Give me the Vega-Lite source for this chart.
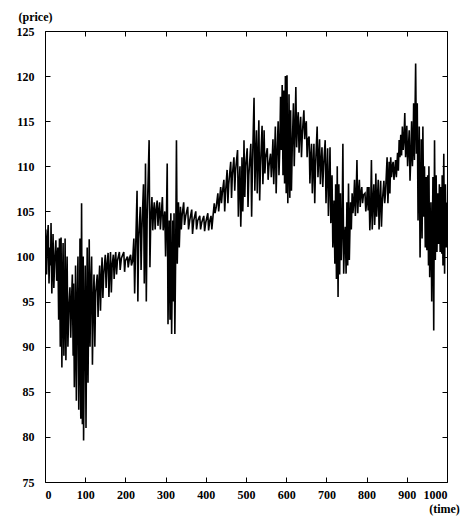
{
"$schema":"https://vega.github.io/schema/vega-lite/v6.json",
"width":402,"height":451,
"autosize":{"type":"none"},
"padding":{"left":45,"top":31,"right":21,"bottom":34},
"background":"white",
"config":{"view":{"stroke":"black","strokeWidth":1},"axis":{"labelFont":"Liberation Serif","labelFontWeight":"bold","labelFontSize":12,"labelColor":"black","titleFont":"Liberation Serif","titleFontWeight":"bold","titleFontSize":12,"titleColor":"black","grid":false,"domain":false,"tickColor":"black","tickWidth":1}},
"data":{"values":[
{"t":0,"p":100.5},{"t":2,"p":103},{"t":4,"p":98},{"t":6,"p":102},{"t":8,"p":103.5},{"t":10,"p":97},{"t":12,"p":101},{"t":14,"p":99},{"t":15,"p":103.7},{"t":17,"p":95.9},{"t":19,"p":100},{"t":20,"p":102.5},{"t":22,"p":96.5},{"t":24,"p":99.5},{"t":27,"p":101.8},{"t":29,"p":97.3},{"t":31,"p":100},{"t":32,"p":101},{"t":34,"p":93},{"t":36,"p":102},{"t":38,"p":90},{"t":40,"p":102.1},{"t":42,"p":87.7},{"t":44,"p":98},{"t":45,"p":101.5},{"t":47,"p":89},{"t":49,"p":95},{"t":50,"p":102},{"t":52,"p":88.5},{"t":54,"p":97},{"t":55,"p":100},{"t":57,"p":90},{"t":59,"p":94},{"t":62,"p":96.6},{"t":64,"p":91},{"t":66,"p":95},{"t":68,"p":98},{"t":70,"p":89},{"t":71,"p":97},{"t":73,"p":85.5},{"t":75,"p":93},{"t":76,"p":99},{"t":78,"p":84},{"t":80,"p":95},{"t":82,"p":100},{"t":84,"p":83},{"t":86,"p":92},{"t":87,"p":102},{"t":89,"p":82},{"t":91,"p":105.9},{"t":93,"p":81.4},{"t":95,"p":100},{"t":96,"p":79.6},{"t":98,"p":92},{"t":100,"p":99},{"t":102,"p":81},{"t":104,"p":95},{"t":105,"p":101},{"t":107,"p":86},{"t":109,"p":96},{"t":110,"p":101.9},{"t":112,"p":90},{"t":114,"p":97},{"t":116,"p":100},{"t":118,"p":88},{"t":120,"p":95},{"t":122,"p":98},{"t":124,"p":90},{"t":126,"p":96},{"t":130,"p":98},{"t":132,"p":93.3},{"t":134,"p":97},{"t":136,"p":99},{"t":138,"p":94},{"t":140,"p":97.5},{"t":142,"p":99.9},{"t":144,"p":95.4},{"t":146,"p":98},{"t":150,"p":100.2},{"t":152,"p":96.5},{"t":154,"p":99},{"t":157,"p":100.4},{"t":159,"p":95.5},{"t":161,"p":98.5},{"t":163,"p":100.5},{"t":165,"p":96},{"t":167,"p":99},{"t":170,"p":100.2},{"t":172,"p":97.5},{"t":174,"p":99.5},{"t":176,"p":100.5},{"t":178,"p":98},{"t":180,"p":99.5},{"t":185,"p":100.5},{"t":187,"p":98.5},{"t":190,"p":99.8},{"t":196,"p":100.5},{"t":198,"p":98.3},{"t":200,"p":99.5},{"t":205,"p":100},{"t":207,"p":98.8},{"t":210,"p":99.8},{"t":213,"p":100.2},{"t":215,"p":99},{"t":218,"p":99.5},{"t":221,"p":102},{"t":223,"p":95.9},{"t":225,"p":100},{"t":229,"p":107.3},{"t":231,"p":95},{"t":233,"p":102},{"t":237,"p":105.5},{"t":239,"p":98.5},{"t":241,"p":103},{"t":245,"p":108},{"t":247,"p":97},{"t":249,"p":104},{"t":250,"p":110.3},{"t":252,"p":95},{"t":254,"p":104},{"t":259,"p":112.9},{"t":261,"p":98.8},{"t":263,"p":104},{"t":266,"p":106.6},{"t":268,"p":102.9},{"t":270,"p":105},{"t":272,"p":106},{"t":274,"p":103},{"t":276,"p":105},{"t":279,"p":106.2},{"t":281,"p":103.4},{"t":283,"p":105},{"t":285,"p":106},{"t":287,"p":103},{"t":289,"p":104.5},{"t":292,"p":106.6},{"t":294,"p":102.9},{"t":296,"p":104},{"t":298,"p":105},{"t":300,"p":100},{"t":302,"p":104},{"t":304,"p":110.3},{"t":306,"p":92.5},{"t":308,"p":100},{"t":309,"p":104},{"t":311,"p":93},{"t":313,"p":104.8},{"t":315,"p":91.4},{"t":317,"p":99},{"t":318,"p":104},{"t":320,"p":95},{"t":321,"p":104.8},{"t":323,"p":91.4},{"t":325,"p":100},{"t":327,"p":112.9},{"t":329,"p":99.2},{"t":331,"p":104},{"t":332,"p":106},{"t":334,"p":101},{"t":336,"p":104},{"t":337,"p":105.5},{"t":339,"p":103},{"t":341,"p":104.5},{"t":345,"p":106},{"t":347,"p":103.5},{"t":350,"p":104.5},{"t":355,"p":105.5},{"t":357,"p":103},{"t":360,"p":104},{"t":365,"p":105.2},{"t":367,"p":102.5},{"t":370,"p":104},{"t":375,"p":105},{"t":377,"p":103},{"t":380,"p":104},{"t":385,"p":104.5},{"t":387,"p":103},{"t":390,"p":103.8},{"t":395,"p":104.5},{"t":397,"p":102.8},{"t":400,"p":103.8},{"t":405,"p":104.8},{"t":407,"p":102.9},{"t":410,"p":104},{"t":413,"p":104.5},{"t":415,"p":103},{"t":418,"p":104.5},{"t":421,"p":105.9},{"t":423,"p":104.8},{"t":426,"p":105.5},{"t":430,"p":107},{"t":432,"p":105},{"t":434,"p":106},{"t":437,"p":107.7},{"t":439,"p":105.9},{"t":441,"p":107},{"t":445,"p":108.5},{"t":447,"p":105},{"t":449,"p":107},{"t":453,"p":109.6},{"t":455,"p":105.9},{"t":457,"p":108},{"t":462,"p":110.5},{"t":464,"p":106.5},{"t":466,"p":109},{"t":470,"p":111},{"t":472,"p":107.3},{"t":474,"p":109.5},{"t":479,"p":111.8},{"t":481,"p":104.4},{"t":483,"p":108},{"t":485,"p":110},{"t":487,"p":103.3},{"t":489,"p":107},{"t":490,"p":111},{"t":492,"p":105},{"t":494,"p":109},{"t":495,"p":112.9},{"t":497,"p":106.6},{"t":499,"p":110},{"t":503,"p":112},{"t":505,"p":105.5},{"t":507,"p":109},{"t":512,"p":112.5},{"t":514,"p":104.4},{"t":516,"p":110},{"t":520,"p":117.6},{"t":522,"p":107.3},{"t":524,"p":111},{"t":526,"p":114},{"t":528,"p":107},{"t":530,"p":111},{"t":532,"p":115.1},{"t":534,"p":106.2},{"t":536,"p":110},{"t":540,"p":114.5},{"t":542,"p":108},{"t":544,"p":111},{"t":545,"p":114},{"t":547,"p":109.2},{"t":549,"p":111},{"t":553,"p":112},{"t":555,"p":108.5},{"t":557,"p":110},{"t":561,"p":111.4},{"t":563,"p":108.8},{"t":565,"p":110.5},{"t":567,"p":113},{"t":569,"p":108},{"t":571,"p":111},{"t":573,"p":114.4},{"t":575,"p":107},{"t":577,"p":111},{"t":580,"p":115},{"t":582,"p":109},{"t":584,"p":112},{"t":586,"p":117.7},{"t":588,"p":111.8},{"t":590,"p":119},{"t":592,"p":109},{"t":594,"p":118.4},{"t":596,"p":108.1},{"t":598,"p":120},{"t":600,"p":107},{"t":602,"p":120.1},{"t":604,"p":105.9},{"t":606,"p":112},{"t":607,"p":118},{"t":609,"p":106.5},{"t":611,"p":116.2},{"t":613,"p":107.3},{"t":615,"p":112},{"t":618,"p":117},{"t":620,"p":110},{"t":622,"p":114},{"t":624,"p":118.8},{"t":626,"p":112.1},{"t":628,"p":115},{"t":630,"p":116},{"t":632,"p":111.5},{"t":634,"p":114},{"t":636,"p":115.5},{"t":638,"p":111},{"t":640,"p":113.5},{"t":644,"p":116.2},{"t":646,"p":113},{"t":648,"p":114.5},{"t":650,"p":115},{"t":652,"p":111},{"t":654,"p":113},{"t":657,"p":113.3},{"t":659,"p":108.1},{"t":661,"p":111},{"t":663,"p":112.5},{"t":665,"p":107},{"t":667,"p":110},{"t":669,"p":112.5},{"t":671,"p":105.9},{"t":673,"p":110},{"t":677,"p":114.4},{"t":679,"p":108.8},{"t":681,"p":111},{"t":683,"p":113},{"t":685,"p":108},{"t":687,"p":110.5},{"t":689,"p":112.1},{"t":691,"p":107.7},{"t":693,"p":110},{"t":697,"p":112.9},{"t":699,"p":105.9},{"t":701,"p":109},{"t":703,"p":112},{"t":705,"p":104.5},{"t":707,"p":108},{"t":709,"p":112.1},{"t":711,"p":103.7},{"t":713,"p":107},{"t":714,"p":109},{"t":716,"p":101},{"t":718,"p":104},{"t":719,"p":106.2},{"t":721,"p":99.2},{"t":722,"p":103},{"t":723,"p":108},{"t":725,"p":97.5},{"t":726,"p":103},{"t":727,"p":110},{"t":729,"p":95.5},{"t":730,"p":102},{"t":731,"p":108},{"t":733,"p":98},{"t":734,"p":103},{"t":735,"p":107},{"t":737,"p":99.6},{"t":739,"p":103},{"t":741,"p":112.5},{"t":743,"p":98.1},{"t":745,"p":102},{"t":747,"p":103.3},{"t":749,"p":98.1},{"t":751,"p":106},{"t":753,"p":99},{"t":755,"p":108.1},{"t":757,"p":99.6},{"t":759,"p":104},{"t":760,"p":106},{"t":762,"p":103},{"t":764,"p":107},{"t":766,"p":104.8},{"t":768,"p":106},{"t":770,"p":108.5},{"t":772,"p":104.5},{"t":774,"p":106.5},{"t":776,"p":110.7},{"t":778,"p":104.8},{"t":780,"p":107},{"t":782,"p":108.5},{"t":784,"p":105.5},{"t":786,"p":107},{"t":788,"p":107.7},{"t":790,"p":105.9},{"t":792,"p":106.8},{"t":796,"p":107},{"t":798,"p":105},{"t":800,"p":106},{"t":802,"p":107.7},{"t":804,"p":105.1},{"t":806,"p":107.7},{"t":808,"p":102.9},{"t":810,"p":105},{"t":812,"p":110.7},{"t":814,"p":103},{"t":816,"p":106},{"t":818,"p":108},{"t":820,"p":103.5},{"t":822,"p":106},{"t":823,"p":109.2},{"t":825,"p":104.4},{"t":827,"p":106.5},{"t":829,"p":108.5},{"t":831,"p":103},{"t":833,"p":106},{"t":835,"p":108.4},{"t":837,"p":103.3},{"t":839,"p":106},{"t":843,"p":108.4},{"t":845,"p":105.9},{"t":847,"p":107},{"t":851,"p":111},{"t":853,"p":105.9},{"t":855,"p":108.5},{"t":856,"p":110.5},{"t":858,"p":107},{"t":860,"p":111},{"t":862,"p":108.8},{"t":864,"p":110},{"t":866,"p":110.5},{"t":868,"p":108.5},{"t":870,"p":109.5},{"t":872,"p":110.7},{"t":874,"p":108.8},{"t":877,"p":111.5},{"t":879,"p":109.5},{"t":881,"p":112.9},{"t":883,"p":111},{"t":885,"p":113.5},{"t":887,"p":111.2},{"t":889,"p":114.4},{"t":891,"p":111.8},{"t":893,"p":113},{"t":895,"p":115.9},{"t":897,"p":111},{"t":899,"p":113},{"t":900,"p":114.5},{"t":902,"p":110},{"t":904,"p":112},{"t":906,"p":114},{"t":908,"p":108.4},{"t":910,"p":111},{"t":912,"p":115},{"t":914,"p":110},{"t":916,"p":113},{"t":917,"p":117},{"t":919,"p":110.7},{"t":920,"p":114},{"t":922,"p":121.4},{"t":924,"p":111.4},{"t":925,"p":115},{"t":926,"p":117},{"t":928,"p":104},{"t":930,"p":110},{"t":931,"p":114.4},{"t":933,"p":99.9},{"t":935,"p":107},{"t":936,"p":113},{"t":938,"p":102},{"t":940,"p":114.4},{"t":942,"p":104.4},{"t":943,"p":108},{"t":944,"p":110},{"t":946,"p":101},{"t":947,"p":105},{"t":948,"p":108.8},{"t":950,"p":100.7},{"t":952,"p":109},{"t":954,"p":99},{"t":955,"p":110},{"t":957,"p":97.7},{"t":959,"p":103},{"t":960,"p":106},{"t":962,"p":95},{"t":964,"p":104},{"t":965,"p":108.8},{"t":967,"p":91.8},{"t":969,"p":112.9},{"t":971,"p":99.6},{"t":972,"p":105},{"t":973,"p":109},{"t":975,"p":100.5},{"t":977,"p":107},{"t":979,"p":101.4},{"t":981,"p":108},{"t":983,"p":100.5},{"t":985,"p":107.7},{"t":987,"p":100.3},{"t":988,"p":109},{"t":990,"p":99},{"t":992,"p":111.4},{"t":994,"p":98.1},{"t":996,"p":108},{"t":998,"p":101},{"t":1000,"p":106}
]},
"layer":[
{"mark":{"type":"line","color":"black","strokeWidth":1.6,"clip":true},
 "encoding":{
  "x":{"field":"t","type":"quantitative","scale":{"domain":[0,1000],"nice":false,"zero":false},
       "axis":{"orient":"bottom","values":[0,100,200,300,400,500,600,700,800,900,1000],"format":"d","tickSize":-5,"labelPadding":12,"labelBaseline":"top","title":"(time)","titleX":399,"titleY":26,"titleAlign":"center","titleBaseline":"middle","titleAnchor":null}},
  "y":{"field":"p","type":"quantitative","scale":{"domain":[75,125],"nice":false,"zero":false},
       "axis":{"orient":"left","values":[75,80,85,90,95,100,105,110,115,120,125],"tickSize":-5,"labelPadding":16,"title":"(price)","titleAngle":0,"titleX":-27,"titleY":-15,"titleAlign":"left","titleBaseline":"middle","titleAnchor":null}}
 }},
{"mark":{"type":"line","strokeOpacity":0},
 "encoding":{
  "x":{"field":"t","type":"quantitative","axis":{"orient":"top","values":[0,100,200,300,400,500,600,700,800,900,1000],"tickSize":-5,"labels":false,"title":null}},
  "y":{"field":"p","type":"quantitative","axis":{"orient":"right","values":[75,80,85,90,95,100,105,110,115,120,125],"tickSize":-5,"labels":false,"title":null}}
 }}
],
"resolve":{"axis":{"x":"independent","y":"independent"}}
}
